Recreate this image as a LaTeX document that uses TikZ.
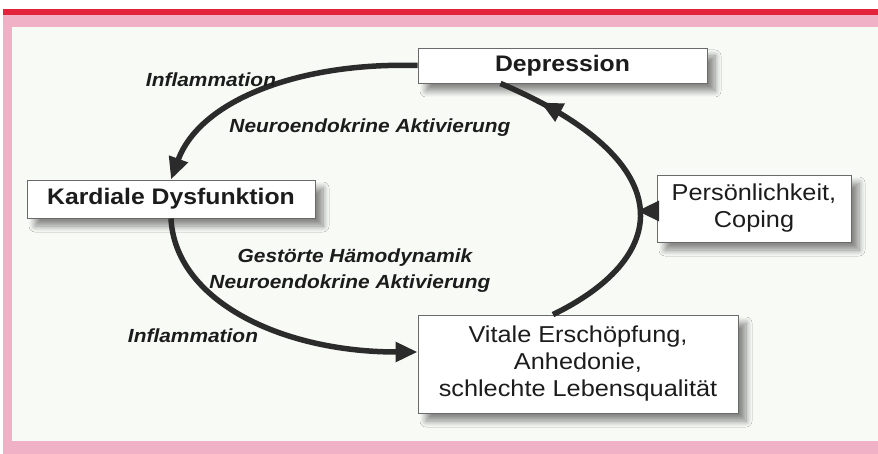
\documentclass[tikz,border=0pt]{standalone}
\usepackage{fontspec}
\setmainfont{Liberation Sans}[FakeStretch=1.1]
\usetikzlibrary{arrows.meta,calc,decorations.markings,shadows.blur}
\definecolor{pinkc}{HTML}{F0B0C6}
\definecolor{redc}{HTML}{E3223C}
\definecolor{innerc}{HTML}{F8FAF6}
\definecolor{boxborder}{HTML}{6A6A6A}
\definecolor{txt}{HTML}{1C1C1C}
\definecolor{arcc}{HTML}{2B2B2B}
\definecolor{shadc}{HTML}{6E7282}
\begin{document}
\begin{tikzpicture}[x=1pt,y=-1pt,
  box/.style={draw=boxborder, line width=0.9pt, fill=white, inner sep=0pt, align=center, text=txt,
    blur shadow={shadow xshift=8pt, shadow yshift=-8pt, shadow blur radius=6pt, shadow opacity=45, shadow blur steps=10}},
  boldtxt/.style={font=\fontsize{22.5}{26}\selectfont\bfseries},
  regtxt/.style={font=\fontsize{23}{27}\selectfont},
  lab/.style={font=\fontsize{19}{23}\selectfont\bfseries\itshape, text=txt, inner sep=0pt},
  arcline/.style={draw=arcc, line width=5.5pt},
  tipa/.style={-{Triangle[length=22pt,width=19pt]}},
  midtip/.style={postaction={decorate}, decoration={markings,
     mark=at position 0.87 with {\arrow{Triangle[length=22pt,width=19pt]}}}}
]
\useasboundingbox (0,0) rectangle (878,454);
% background
\fill[white] (0,0) rectangle (878,454);
\fill[pinkc] (3,9) rectangle (878,454);
\fill[redc] (3,9) rectangle (878,15);
\fill[innerc] (12,27) rectangle (878,441);

% boxes
\node[box, boldtxt, minimum width=289pt, minimum height=35pt] (dep) at (562.5,65.5) {Depression};
\node[box, boldtxt, minimum width=288pt, minimum height=38pt] (kard) at (171,199) {Kardiale Dysfunktion};
\node[box, regtxt, minimum width=194pt, minimum height=67pt] (pers) at (754,208.5) {Persönlichkeit,\\Coping};
\node[box, regtxt, minimum width=320pt, minimum height=98pt] (vit) at (578,364) {Vitale Erschöpfung,\\Anhedonie,\\schlechte Lebensqualität};

% arcs
\draw[arcline, tipa] (dep.west) .. controls (300,62) and (200,100) .. (kard.north);
\draw[arcline, tipa] (kard.south) .. controls (175,300) and (280,352) .. ($(vit.west)+(0,-12)$);
\draw[arcline, midtip] ($(vit.north)+(-25,0)$) .. controls (675,255) and (680,160) .. ($(dep.south)+(-62,0)$);
\coordinate (hit) at (637,211);
\draw[arcline, tipa] (pers.west |- hit) -- (hit);

% labels
\node[lab] (infl1) at (211,80) {Inflammation};
\node[lab] (neuro1) at (370,128) {Neuroendokrine Aktivierung};
\node[lab] (haemo) at (355,258) {Gestörte Hämodynamik};
\node[lab] (neuro2) at (350,284) {Neuroendokrine Aktivierung};
\node[lab] (infl2) at (193,336) {Inflammation};
\end{tikzpicture}
\end{document}
